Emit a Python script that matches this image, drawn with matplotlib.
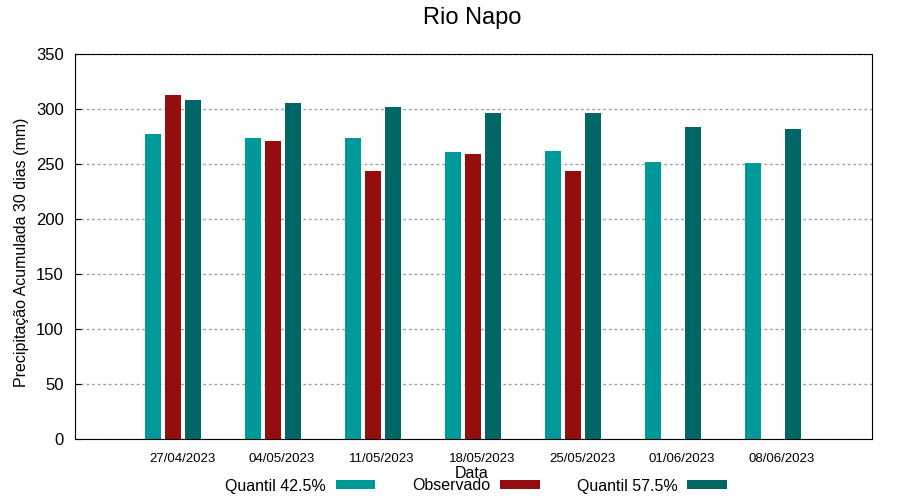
import numpy as np
import matplotlib
matplotlib.use("Agg")
import matplotlib.pyplot as plt

plt.rcParams['font.family'] = ['Liberation Sans', 'DejaVu Sans']

datas = ["27/04/2023", "04/05/2023", "11/05/2023", "18/05/2023",
         "25/05/2023", "01/06/2023", "08/06/2023"]
q425 = [277, 274, 274, 261, 262, 252, 251]
observado = [313, 271, 244, 259, 244, np.nan, np.nan]
q575 = [308, 305.5, 302, 296.5, 296.5, 283.5, 282]

c_q425 = "#009999"
c_obs = "#940e0e"
c_q575 = "#006666"

fig = plt.figure(figsize=(9, 5), dpi=100)
ax = fig.add_axes([75/900, 61/500, 797/900, 385/500])

x = np.arange(len(datas))
w = 0.16
ax.bar(x - 0.29, q425, w, color=c_q425, label="Quantil 42.5%")
ax.bar(x - 0.09, observado, w, color=c_obs, label="Observado")
ax.bar(x + 0.11, q575, w, color=c_q575, label="Quantil 57.5%")

ax.set_xlim(-1.07, 6.9)
ax.set_ylim(0, 350)
ax.set_yticks(np.arange(0, 351, 50))
ax.set_xticks(x)
ax.set_xticklabels(datas, fontsize=9.5)
ax.tick_params(axis='x', length=0, pad=10)
ax.tick_params(axis='y', direction='in', length=4, labelsize=12, pad=8)
ax.set_axisbelow(True)
ax.yaxis.grid(True, color="#a0a0a0", linestyle=(0, (2, 2)), linewidth=1)

fig.text(472/900, 1 - 18/500, "Rio Napo", fontsize=17, ha='center', va='center')
fig.text(22/900, 1 - 252/500, "Precipitação Acumulada 30 dias (mm)",
         fontsize=11.5, rotation=90, ha='center', va='center')
fig.text(472/900, 1 - 474/500, "Data", fontsize=11.5, ha='center', va='center')

fig.legend(loc='center', bbox_to_anchor=(476/900, 1 - 486/500), ncol=3,
           markerfirst=False, frameon=False, fontsize=11.5,
           handlelength=2.5, handleheight=0.5, handletextpad=0.6,
           columnspacing=2.3, borderpad=0)

fig.savefig("out.png", dpi=100)
